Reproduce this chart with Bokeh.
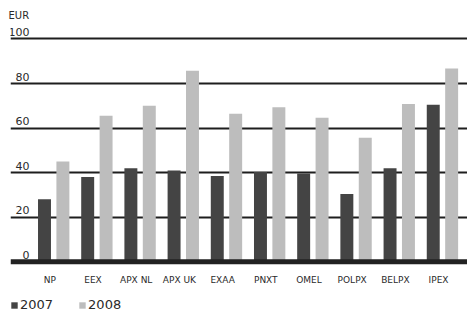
from bokeh.plotting import figure
from bokeh.models import (Range1d, FixedTicker, Span, Legend, LegendItem, ColumnDataSource)
from bokeh.core.properties import value
from bokeh.embed import file_html
from bokeh.resources import INLINE

categories = ["NP", "EEX", "APX NL", "APX UK", "EXAA", "PNXT", "OMEL", "POLPX", "BELPX", "IPEX"]
values_2007 = [28, 38, 42, 41, 38.5, 40.3, 39.6, 30.4, 42, 70.5]
values_2008 = [45, 65.5, 70, 85.7, 66.4, 69.3, 64.6, 55.6, 70.8, 86.7]
y_ticks = [0, 20, 40, 60, 80, 100]
y_tick_labels = ["0", "20", "40", "60", "80", "100"]
series_names = ["2007", "2008"]
unit_label = "EUR"

C07 = "#444444"
C08 = "#bdbdbd"
TXT = "#2a2a2a"
FONT = "DejaVu Sans"

X_START, X_END = -1.0, 9.58
Y_START, Y_END = -24.6, 107.4

p = figure(width=467, height=316, output_backend="svg", toolbar_location=None,
           x_range=Range1d(X_START, X_END), y_range=Range1d(Y_START, Y_END),
           min_border_left=10, min_border_right=0, min_border_top=22, min_border_bottom=0)
p.outline_line_color = None
p.background_fill_color = "white"

# unit label as title
p.title.text = unit_label
p.title.text_font = FONT
p.title.text_font_size = "10px"
p.title.text_font_style = "normal"
p.title.text_color = TXT
p.title.standoff = 4
p.title.offset = -2

idx = list(range(len(categories)))
off = 0.213
bw = 0.30
src = ColumnDataSource(dict(x07=[i - off for i in idx], x08=[i + off for i in idx],
                            xc=[i - 0.09 for i in idx], yc=[0] * len(idx), cat=categories,
                            v07=values_2007, v08=values_2008))
r07 = p.vbar(x="x07", top="v07", bottom=0, width=bw, source=src, fill_color=C07, line_color=None)
r08 = p.vbar(x="x08", top="v08", bottom=0, width=bw, source=src, fill_color=C08, line_color=None)

# grid
p.xgrid.visible = False
p.ygrid.ticker = FixedTicker(ticks=[t for t in y_ticks if t > 0])
p.ygrid.grid_line_color = "#1e1e1e"
p.ygrid.grid_line_width = 1.8

zero = Span(location=0, dimension="width", line_color="#222222", line_width=5)
p.add_layout(zero)

p.xaxis.visible = False
p.yaxis.visible = False

# y labels drawn as text above gridlines
p.text(x=[X_START] * len(y_ticks), y=y_ticks, text=y_tick_labels,
       x_offset=19, y_offset=-3, text_align="right", text_baseline="bottom",
       text_font=value(FONT), text_font_size="11px", text_color=TXT)

# category labels below the zero line
p.text(x="xc", y="yc", text="cat", source=src, y_offset=18,
       text_align="center", text_baseline="middle",
       text_font=value(FONT), text_font_size="9px", text_color=TXT)

legend = Legend(items=[LegendItem(label=series_names[0], renderers=[r07]),
                       LegendItem(label=series_names[1], renderers=[r08])],
                orientation="horizontal", location=(0, 4),
                glyph_width=8, glyph_height=8, label_text_font=FONT,
                label_text_font_size="13px", label_text_color=TXT,
                label_standoff=2, spacing=25, padding=0, margin=0,
                border_line_color=None, background_fill_alpha=0, label_height=12)
p.add_layout(legend)

open("out.html", "w").write(file_html(p, INLINE))
